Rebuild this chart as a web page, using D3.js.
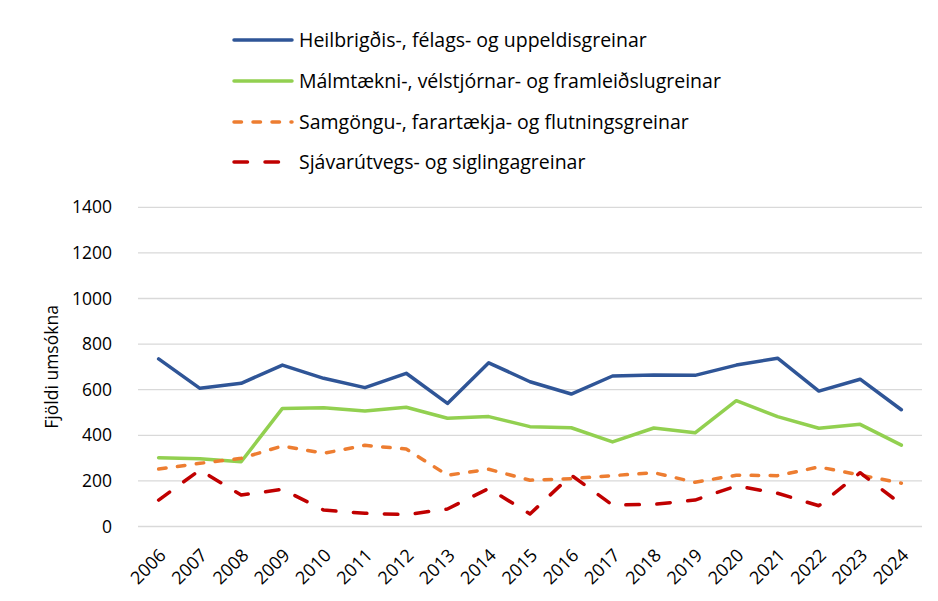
<!DOCTYPE html>
<html><head><meta charset="utf-8">
<script src="https://cdn.jsdelivr.net/npm/d3@7"></script>
<style>
body{margin:0;background:#fff;}
svg{display:block;font-family:"Open Sans",Lato,sans-serif;}
</style></head>
<body>
<svg id="chart" width="938" height="601"></svg>
<script>
const years = ["2006","2007","2008","2009","2010","2011","2012","2013","2014","2015","2016","2017","2018","2019","2020","2021","2022","2023","2024"];
const heilbrigdis = [735,606,628,708,650,609,672,540,718,635,581,660,664,663,708,738,594,646,512];
const malmtaekni = [302,297,284,518,521,507,523,475,482,438,433,371,432,411,552,482,431,448,357];
const samgongu = [252,277,299,353,321,356,340,225,251,203,210,223,236,194,225,223,261,226,190];
const sjavarutvegs = [116,248,138,163,72,58,52,77,167,55,225,94,97,116,178,146,91,236,97];
const yTicks = [0,200,400,600,800,1000,1200,1400];
const seriesNames = ["Heilbrigðis-, félags- og uppeldisgreinar","Málmtækni-, vélstjórnar- og framleiðslugreinar","Samgöngu-, farartækja- og flutningsgreinar","Sjávarútvegs- og siglingagreinar"];
const yTitle = "Fjöldi umsókna";

const series = [
  {name: seriesNames[0], values: heilbrigdis, color:"#2F5597", dash:null},
  {name: seriesNames[1], values: malmtaekni, color:"#92D050", dash:null},
  {name: seriesNames[2], values: samgongu, color:"#ED7D31", dash:"7.5,11.5"},
  {name: seriesNames[3], values: sjavarutvegs, color:"#C00000", dash:"13.5,17.5"}
];

const FONT = "'Open Sans',Lato,sans-serif";
const svg = d3.select("#chart");
const pLeft = 138, pRight = 922, pTop = 207.3, pBottom = 526.5;

const x = d3.scalePoint().domain(years).range([pLeft, pRight]).padding(0.5);
const y = d3.scaleLinear().domain([0,1400]).range([pBottom, pTop]);

// gridlines
svg.append("g").selectAll("line").data(yTicks).join("line")
  .attr("x1", pLeft).attr("x2", pRight)
  .attr("y1", d=>y(d)).attr("y2", d=>y(d))
  .attr("stroke", "#d9d9d9").attr("stroke-width", 1.3);

// y axis
const yAxis = d3.axisLeft(y).tickValues(yTicks).tickFormat(d3.format("d")).tickSize(0).tickPadding(0);
const gy = svg.append("g").attr("transform", `translate(112,0)`).call(yAxis);
gy.select(".domain").remove();
gy.selectAll("text").attr("font-size", 17.5).attr("fill", "#000").attr("font-family", FONT);

// x axis
const xAxis = d3.axisBottom(x).tickSize(0).tickPadding(0);
const gx = svg.append("g").attr("transform", `translate(0,${pBottom})`).call(xAxis);
gx.select(".domain").remove();
gx.selectAll("text")
  .attr("font-size", 18).attr("fill", "#000")
  .attr("font-family", FONT)
  .attr("text-anchor", "end")
  .attr("dy", "0")
  .attr("transform", "translate(8,30) rotate(-45)");

// y title
svg.append("text").attr("transform", `translate(58,${(pTop+pBottom)/2}) rotate(-90)`)
  .attr("text-anchor", "middle").attr("font-size", 17.5).attr("font-family", FONT).text(yTitle);

// lines
const line = d3.line().x((d,i)=>x(years[i])).y(d=>y(d));
series.forEach(s=>{
  svg.append("path").datum(s.values)
    .attr("d", line).attr("fill","none")
    .attr("stroke", s.color).attr("stroke-width", 3.5)
    .attr("stroke-linejoin","round").attr("stroke-linecap", "round")
    .attr("stroke-dasharray", s.dash);
});

// legend
const legY = [40, 81, 122, 162];
const lg = svg.append("g");
series.forEach((s,i)=>{
  lg.append("line").attr("x1", 234).attr("x2", 292).attr("y1", legY[i]).attr("y2", legY[i])
    .attr("stroke", s.color).attr("stroke-width", 3.5).attr("stroke-linecap", "round")
    .attr("stroke-dasharray", s.dash);
  lg.append("text").attr("x", 299).attr("y", legY[i]).attr("dy","0.35em")
    .attr("font-size", 19.5).attr("font-family", FONT).text(s.name);
});
</script>
</body></html>
